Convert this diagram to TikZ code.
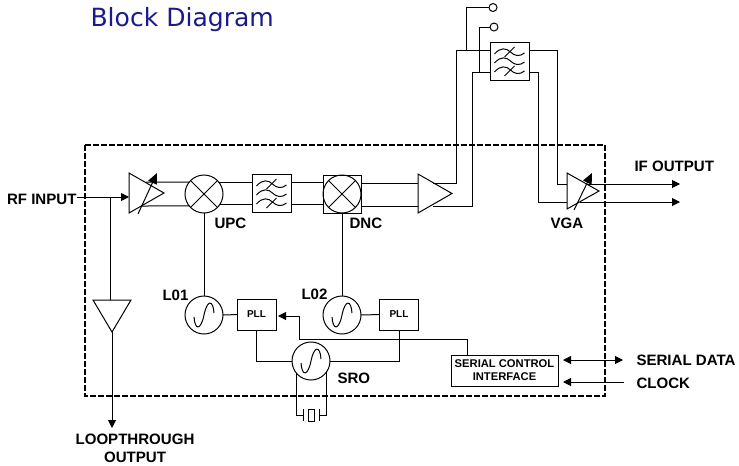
\documentclass[tikz,border=0pt]{standalone}
\usepackage{fontspec}
\setmainfont{Liberation Sans}
\newfontfamily\titlefont{DejaVu Sans}
\usetikzlibrary{arrows.meta,shapes.geometric}
\definecolor{titleblue}{RGB}{26,26,140}
\tikzset{
	lbl/.style={font=\fontsize{11.3}{13}\selectfont\bfseries,inner sep=0pt},
	arr/.style={-{Triangle[length=6pt,width=6pt]}},
	slash/.style={-{Triangle[length=8pt,width=7pt]}},
	amp/.style={draw,isosceles triangle,isosceles triangle stretches,inner sep=0pt,outer sep=0pt,anchor=lower side},
	ring/.style={draw,circle,inner sep=0pt,outer sep=0pt,minimum size=28.5pt},
	port/.style={draw,circle,inner sep=0pt,outer sep=0pt,minimum size=6pt},
	bx/.style={draw,inner sep=0pt,outer sep=0pt,align=center},
	filt/.style={bx,minimum width=29.25pt,minimum height=28.5pt},
	pllbox/.style={bx,minimum width=29.25pt,minimum height=23.25pt,font=\fontsize{7.5}{9}\selectfont\bfseries},
	wavefilter/.pic={
		\foreach \d in {-9,0,9}
		\draw (-15,\d+2) .. controls (-9,\d-5) and (-3,\d-4) .. (1,\d) .. controls (5,\d+4) and (10,\d+5) .. (15,\d+1);
		\draw (-5,-4) -- (5,-14);
		\draw (-5,15) -- (5,5);
	},
	sinewave/.pic={
		\draw (-10,2) .. controls (-9,16) and (-3,15) .. (0,0) .. controls (3,-15) and (9,-16) .. (10,-2);
	}
}

\begin{document}
\begin{tikzpicture}[x=0.75pt,y=-0.75pt,line width=0.75pt]
	\useasboundingbox (0,0) rectangle (739,465);

	\node[anchor=base west,inner sep=0pt,text=titleblue,font=\fontsize{18.8}{22}\selectfont\titlefont] (title) at (90,26) {Block Diagram};

	% top row
	\node[amp,minimum height=26.25pt,minimum width=30pt] (ampa) at (129,193) {};
	\node[ring] (mixa) at (204,194) {};
	\node[filt] (filta) at (271.5,193) {};
	\node[bx,minimum width=28.5pt,minimum height=28.5pt] (mixbox) at (342,194) {};
	\node[ring] (mixb) at (342,194) {};
	\node[amp,minimum height=25.5pt,minimum width=29.25pt] (ampb) at (418,193.5) {};
	\node[filt] (filtb) at (509.5,61) {};
	\node[amp,minimum height=24pt,minimum width=27pt] (vga) at (567,191) {};
	\node[port] (pa) at (493,7.5) {};
	\node[port] (pb) at (494,27) {};

	% bottom half
	\node[amp,shape border rotate=-90,minimum width=28.5pt,minimum height=24pt] (ampc) at (112,300) {};
	\node[ring] (loa) at (204,315) {};
	\node[ring] (lob) at (342,315) {};
	\node[ring] (sro) at (311,361) {};
	\node[pllbox] (plla) at (256.5,314.5) {PLL};
	\node[pllbox] (pllb) at (399,314.5) {PLL};
	\node[bx,minimum width=80.25pt,minimum height=23.25pt,font=\fontsize{8.4}{9.75}\selectfont\bfseries] (sci) at (504.5,370.5) {SERIAL CONTROL\\INTERFACE};
	\node[draw,inner sep=0pt,outer sep=0pt,minimum width=4.5pt,minimum height=9pt] (xtal) at (311,415) {};

	% free ends and corners
	\coordinate (ai) at (129,197);
	\coordinate (bj) at (110,197);
	\coordinate (aout1) at (146,182);
	\coordinate (aout2) at (141,206);
	\coordinate (bout1) at (433,183);
	\coordinate (bout2) at (433,206);
	\coordinate (ua) at (456,50);
	\coordinate (ub) at (472,72);
	\coordinate (ja) at (466,50);
	\coordinate (jb) at (479,72);
	\coordinate (uc) at (557,50);
	\coordinate (ud) at (538,72);
	\coordinate (vi1) at (567,184);
	\coordinate (vi2) at (567,202);
	\coordinate (vo1) at (585.5,184);
	\coordinate (vo2) at (580,202);
	\coordinate (ifa) at (680,184);
	\coordinate (ifb) at (680,202);
	\coordinate (lo) at (112,428);
	\coordinate (sa) at (467,339);
	\coordinate (sb) at (299,316);
	\coordinate (sc) at (278,316);
	\coordinate (pl) at (303,415);
	\coordinate (pr) at (319,415);
	\coordinate (da) at (563,360);
	\coordinate (db) at (623,360);
	\coordinate (ca) at (563,382);
	\coordinate (cb) at (624,382);

	% symbols inside the blocks
	\foreach \m in {mixa,mixb}
	{
		\draw (\m.45) -- (\m.225);
		\draw (\m.135) -- (\m.315);
	}
	\pic at (filta) {wavefilter};
	\pic at (filtb) {wavefilter};
	\pic at (loa) {sinewave};
	\pic at (lob) {sinewave};
	\pic at (sro) {sinewave};

	\draw[slash] (138,214) -- (157,173);
	\draw[slash] (574,210) -- (592,173);

	% signal path
	\draw[arr] (bj -| 77,0) -- (ai);
	\draw (aout1) -- (mixa.141);
	\draw (aout2) -- (mixa.219);
	\draw (mixa.39) -- (mixa.39 -| filta.west);
	\draw (mixa.-32) -- (mixa.-32 -| filta.west);
	\draw (filta.east |- mixa.39) -- (mixbox.west |- mixa.39);
	\draw (filta.east |- mixa.-32) -- (mixbox.west |- mixa.-32);
	\draw (mixbox.east |- bout1) -- (ampb.lower side |- bout1);
	\draw (mixbox.east |- bout2) -- (ampb.lower side |- bout2);
	\draw (bout1) -| (ua) -- (ua -| filtb.west);
	\draw (bout2) -| (ub) -- (ub -| filtb.west);
	\draw (ja) |- (pa);
	\draw (jb) |- (pb);
	\draw (filtb.east |- uc) -- (uc) |- (vi1);
	\draw (filtb.east |- ud) -- (ud) |- (vi2);
	\draw[arr] (vo1) -- (ifa);
	\draw[arr] (vo2) -- (ifb);

	% loop through
	\draw (bj) -- (bj |- ampc.lower side);
	\draw[arr] (ampc.apex) -- (lo);

	% oscillators and PLL
	\draw (mixa.south) -- (loa.north);
	\draw (mixb.south) -- (lob.north);
	\draw (loa) -- (plla);
	\draw (lob) -- (pllb);
	\draw (plla.south) |- (sro);
	\draw (pllb.south) |- (sro);
	\draw[arr] (sci.north -| sa) -- (sa) -| (sb) -- (sc);
	\draw (sro.218) |- (pl);
	\draw (sro.-33) |- (pr);
	\draw (pl) ++(0,-6) -- ++(0,12);
	\draw (pr) ++(0,-6) -- ++(0,12);

	% serial lines
	\draw[{Triangle[length=6pt,width=6pt]}-{Triangle[length=6pt,width=6pt]}] (da) -- (db);
	\draw[arr] (cb) -- (ca);

	% outline
	\draw[line width=1.5pt,dash pattern=on 4.25pt off 1.75pt] (85,145) rectangle (605,396);

	% labels
	\node[lbl,anchor=east] (rflbl) at (77,199) {RF INPUT};
	\node[lbl,anchor=west] (upclbl) at (214,223) {UPC};
	\node[lbl,anchor=west] (dnclbl) at (349,223) {DNC};
	\node[lbl,anchor=west] (vgalbl) at (550,223) {VGA};
	\node[lbl,anchor=west] (iflbl) at (634,166) {IF OUTPUT};
	\node[lbl,anchor=west] (l1lbl) at (162,295) {L01};
	\node[lbl,anchor=west] (l2lbl) at (301,294) {L02};
	\node[lbl,anchor=west] (srolbl) at (337,378) {SRO};
	\node[lbl,anchor=west] (datalbl) at (636,360) {SERIAL DATA};
	\node[lbl,anchor=west] (clklbl) at (636,383) {CLOCK};
	\node[lbl,align=center] (looplbl) at (135,448) {LOOPTHROUGH\\[0.5pt]OUTPUT};
\end{tikzpicture}
\end{document}
